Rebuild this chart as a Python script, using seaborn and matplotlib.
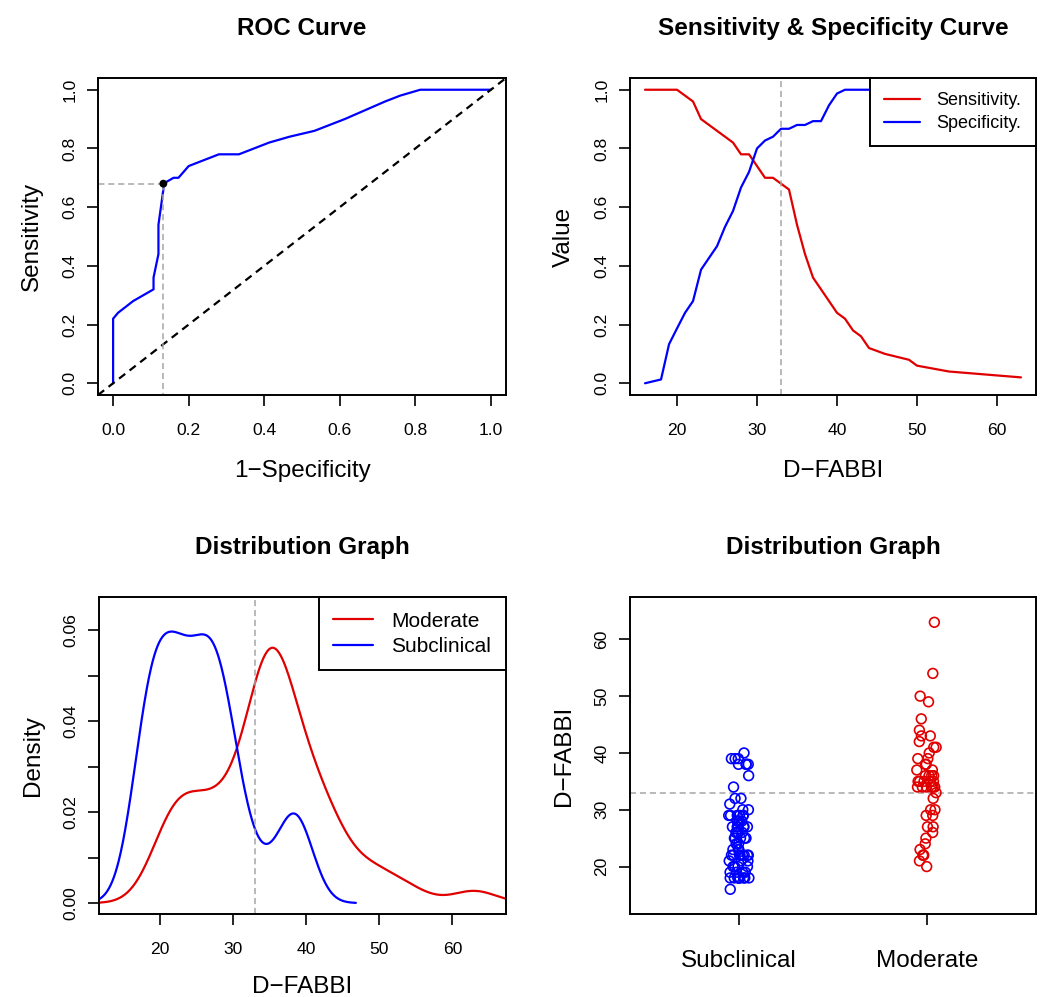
"""Four-panel D-FABBI cut-off figure: ROC, sens/spec curve, densities, strip chart."""
import numpy as np
import pandas as pd
import matplotlib
matplotlib.use("Agg")
import matplotlib.pyplot as plt
import seaborn as sns

RED = "#E00000"
BLUE = "#0000FF"
GREY = "#A6A6A6"

# D-FABBI scores, value -> number of subjects, per group
sub_values = [16, 18, 19, 20, 21, 22, 23, 24, 25, 26, 27, 28, 29, 30, 31, 32, 34, 36, 38, 39, 40]
sub_counts = [1, 9, 4, 4, 3, 8, 3, 3, 5, 4, 6, 4, 6, 2, 1, 2, 1, 1, 4, 3, 1]
mod_values = [20, 21, 22, 23, 24, 25, 26, 27, 29, 30, 32, 33, 34, 35, 36, 37, 38, 39,
              40, 41, 42, 43, 44, 46, 49, 50, 54, 63]
mod_counts = [1, 1, 3, 1, 1, 1, 1, 2, 2, 2, 1, 1, 6, 5, 4, 2, 2, 2,
              1, 2, 1, 2, 1, 1, 1, 1, 1, 1]

# sensitivity / specificity at each observed cut-off
thresholds = [16, 18, 19, 20, 21, 22, 23, 24, 25, 26, 27, 28, 29, 30, 31, 32, 33, 34,
              35, 36, 37, 38, 39, 40, 41, 42, 43, 44, 46, 49, 50, 54, 63]
sensitivity = [1.00, 1.00, 1.00, 1.00, 0.98, 0.96, 0.90, 0.88, 0.86, 0.84, 0.82, 0.78,
               0.78, 0.74, 0.70, 0.70, 0.68, 0.66, 0.54, 0.44, 0.36, 0.32, 0.28, 0.24,
               0.22, 0.18, 0.16, 0.12, 0.10, 0.08, 0.06, 0.04, 0.02]
specificity = [0.000, 0.013, 0.133, 0.187, 0.240, 0.280, 0.387, 0.427, 0.467, 0.533,
               0.587, 0.667, 0.720, 0.800, 0.827, 0.840, 0.867, 0.867, 0.880, 0.880,
               0.893, 0.893, 0.947, 0.987, 1.000, 1.000, 1.000, 1.000, 1.000, 1.000,
               1.000, 1.000, 1.000]

cutoff = 33
cut_sens = 0.68
cut_spec = 0.867

groups = ["Subclinical", "Moderate"]

sns.set_theme(style="ticks")
plt.rcParams["font.family"] = ["Liberation Sans", "DejaVu Sans"]
plt.rcParams.update({
    "axes.edgecolor": "black",
    "axes.linewidth": 1.4,
    "axes.labelcolor": "black",
    "text.color": "black",
    "xtick.color": "black",
    "ytick.color": "black",
    "xtick.major.size": 8,
    "ytick.major.size": 8,
    "xtick.major.width": 1.2,
    "ytick.major.width": 1.2,
    "xtick.labelsize": 12.6,
    "ytick.labelsize": 12.6,
    "axes.labelsize": 17.5,
    "axes.titlesize": 17.5,
    "axes.titleweight": "bold",
})

W, H = 1041, 997
fig = plt.figure(figsize=(W / 100, H / 100), dpi=100)


def box(l, t, r, b):
    return [l / W, 1 - b / H, (r - l) / W, (b - t) / H]


def r_style(ax, xlabel, ylabel, xlab_y=-0.205):
    ax.set_xlabel(xlabel)
    ax.set_ylabel(ylabel)
    ax.xaxis.set_label_coords(0.5, xlab_y)
    ax.yaxis.set_label_coords(-0.135, 0.5)
    ax.tick_params(axis="x", pad=12)
    ax.tick_params(axis="y", pad=6.7, labelrotation=90)
    for lbl in ax.get_yticklabels():
        lbl.set_va("center")
    ax.set_title(ax.get_title(), pad=31)


def r_legend(ax, size, hlen, pad):
    leg = ax.legend(loc="upper right", frameon=True, fancybox=False, framealpha=1,
                    edgecolor="black", borderaxespad=0, fontsize=size,
                    handlelength=hlen, handletextpad=0.9, borderpad=pad,
                    labelspacing=0.3)
    leg.get_frame().set_linewidth(1.4)
    return leg


dash = (0, (4, 2.5))

# ---- ROC curve ----
ax1 = fig.add_axes(box(98, 78, 506, 395))
roc = pd.DataFrame({"fpr": 1 - np.array(specificity + [1.0]),
                    "tpr": sensitivity + [0.0]})
sns.lineplot(data=roc, x="fpr", y="tpr", sort=False, estimator=None,
             color=BLUE, lw=1.6, ax=ax1)
ax1.axline((0, 0), (1, 1), color="black", lw=1.6, ls=(0, (3.5, 2.5)))
ax1.plot([-1, 1 - cut_spec], [cut_sens, cut_sens], color=GREY, lw=1.1, ls=dash)
ax1.plot([1 - cut_spec, 1 - cut_spec], [-1, cut_sens], color=GREY, lw=1.1, ls=dash)
sns.scatterplot(x=[1 - cut_spec], y=[cut_sens], color="black", s=32, zorder=5,
                edgecolor="none", ax=ax1)
ax1.set_xlim(-0.04, 1.04)
ax1.set_ylim(-0.04, 1.04)
ticks = np.arange(0, 1.01, 0.2)
ax1.set_xticks(ticks, [f"{t:.1f}" for t in ticks])
ax1.set_yticks(ticks, [f"{t:.1f}" for t in ticks])
ax1.set_title("ROC Curve")
r_style(ax1, "1\u2212Specificity", "Sensitivity")

# ---- Sensitivity & specificity ----
ax2 = fig.add_axes(box(630, 78, 1036, 395))
curve = pd.DataFrame({"cut": thresholds, "Sensitivity.": sensitivity,
                      "Specificity.": specificity})
sns.lineplot(data=curve, x="cut", y="Sensitivity.", color=RED, lw=1.6,
             label="Sensitivity.", ax=ax2)
sns.lineplot(data=curve, x="cut", y="Specificity.", color=BLUE, lw=1.6,
             label="Specificity.", ax=ax2)
ax2.axvline(cutoff, color=GREY, lw=1.1, ls=dash)
ax2.set_xlim(14.12, 64.88)
ax2.set_ylim(-0.04, 1.04)
ax2.set_xticks(range(20, 61, 10))
ax2.set_yticks(ticks, [f"{t:.1f}" for t in ticks])
ax2.set_title("Sensitivity & Specificity Curve")
r_style(ax2, "D\u2212FABBI", "Value")
r_legend(ax2, 13, 2.0, 0.8)

# ---- Density ----
scores = pd.DataFrame({
    "group": ["Subclinical"] * sum(sub_counts) + ["Moderate"] * sum(mod_counts),
    "score": np.concatenate([np.repeat(sub_values, sub_counts),
                             np.repeat(mod_values, mod_counts)]),
})


def nrd0_factor(x):
    # R's default bandwidth, expressed as a gaussian_kde factor
    x = np.asarray(x, float)
    sd = x.std(ddof=1)
    iqr = np.subtract(*np.percentile(x, [75, 25]))
    bw = 0.9 * min(sd, iqr / 1.34) * len(x) ** -0.2
    return bw / sd


ax3 = fig.add_axes(box(99, 597, 506, 914))
for name, col in [("Moderate", RED), ("Subclinical", BLUE)]:
    s = scores.loc[scores.group == name, "score"]
    sns.kdeplot(x=s, bw_method=nrd0_factor(s), cut=3, gridsize=512,
                color=col, lw=1.6, label=name, ax=ax3)
ax3.axvline(cutoff, color=GREY, lw=1.1, ls=dash)
ax3.set_xlim(11.65, 67.34)
ax3.set_ylim(-0.0024, 0.0673)
ax3.set_xticks(range(20, 61, 10))
yt = np.arange(0, 0.061, 0.01)
ax3.set_yticks(yt, [f"{t:.2f}" if i % 2 == 0 else "" for i, t in enumerate(yt)])
ax3.set_title("Distribution Graph")
r_style(ax3, "D\u2212FABBI", "Density", xlab_y=-0.196)
r_legend(ax3, 15, 1.9, 0.7)

# ---- Strip chart ----
ax4 = fig.add_axes(box(630, 597, 1036, 914))
np.random.seed(7)
for name, col in [("Subclinical", BLUE), ("Moderate", RED)]:
    sub = scores[scores.group == name]
    n0 = len(ax4.collections)
    sns.stripplot(data=sub, x="group", y="score", order=groups, jitter=0.055,
                  size=7, linewidth=1.2, ax=ax4)
    for c in ax4.collections[n0:]:
        c.set_facecolor("none")
        c.set_edgecolor(col)
ax4.axhline(cutoff, color=GREY, lw=1.1, ls=dash)
ax4.set_xlim(-0.58, 1.58)
ax4.set_ylim(11.65, 67.45)
ax4.set_yticks(range(20, 61, 10))
ax4.set_title("Distribution Graph")
r_style(ax4, "", "D\u2212FABBI")
ax4.tick_params(axis="x", labelsize=17.5, pad=18)

for ax in (ax1, ax2, ax3, ax4):
    for sp in ax.spines.values():
        sp.set_visible(True)

fig.savefig("out.png", dpi=100, facecolor="white")
